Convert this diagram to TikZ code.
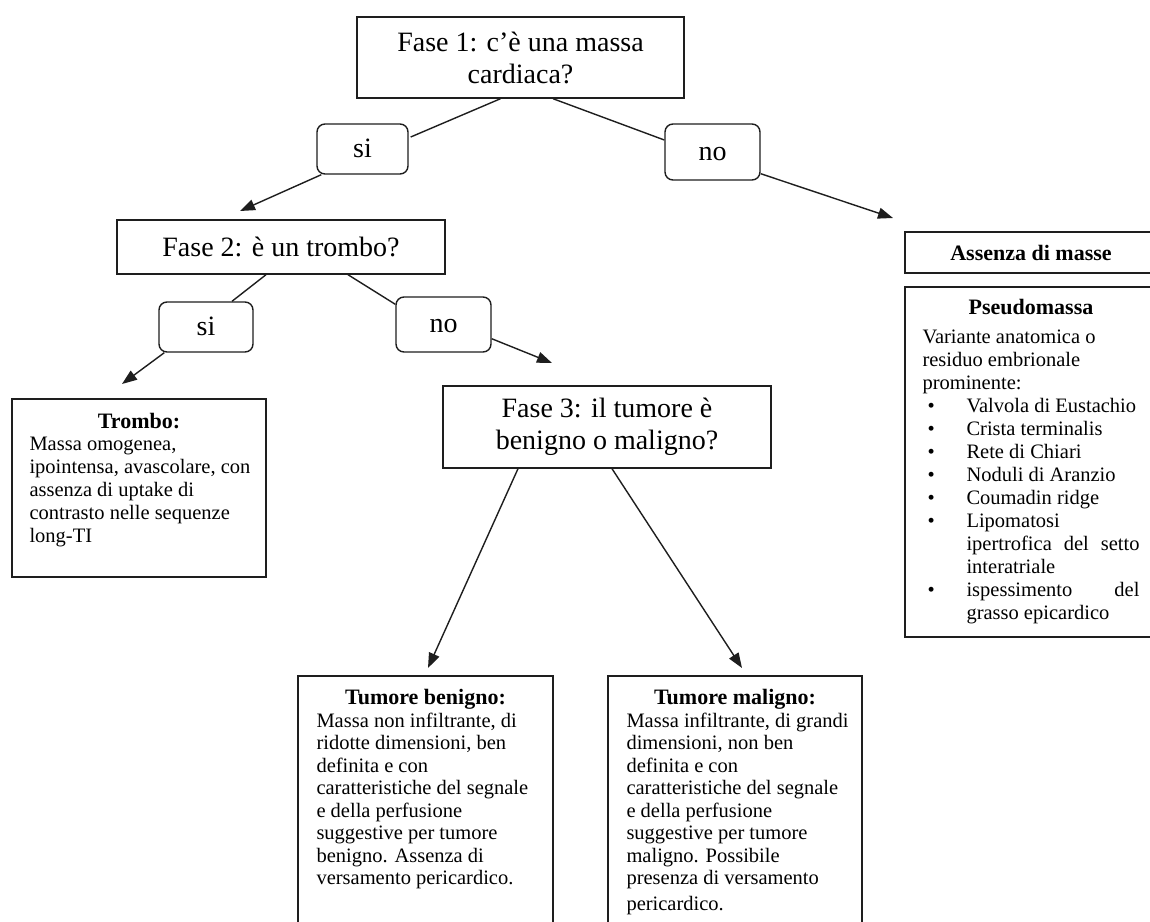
\documentclass[tikz,border=0pt]{standalone}
\usepackage{fontspec}
\setmainfont{Liberation Serif}
\usetikzlibrary{positioning,calc,arrows.meta}
\definecolor{edgeDark}{RGB}{30,30,30}
\newcommand{\pmitem}[1]{\hspace*{5pt}\makebox[39pt][l]{\textbullet}#1}
\newcommand{\pmcont}[1]{\hspace*{44pt}#1}

\begin{document}
\begin{tikzpicture}[x=1pt,y=-1pt,
  fase/.style={draw=edgeDark,line width=1.4pt,align=center,inner sep=0pt,
               font=\fontsize{28}{32}\selectfont},
  answer/.style={draw=edgeDark,line width=1.4pt,rounded corners=8pt,inner sep=0pt,
                 text height=19pt,text depth=2.4pt,
                 font=\fontsize{28}{32}\selectfont},
  panel/.style={draw=edgeDark,line width=1.4pt,inner sep=0pt},
  head/.style={font=\fontsize{22}{24}\selectfont\bfseries,inner sep=0pt,anchor=base},
  body/.style={font=\fontsize{20.5}{23}\selectfont,inner sep=0pt,align=left,anchor=base west},
  link/.style={-{Triangle[length=15pt,width=11pt]},draw=edgeDark,line width=1.4pt},
  tie/.style={draw=edgeDark,line width=1.4pt}
]
\fill[white] (0,0) rectangle (1150,921);
\useasboundingbox (0,0) rectangle (1150,921);
\clip (0,0) rectangle (1150,921);

% ==========  Decision steps  ==========
\node[fase,minimum width=327pt,minimum height=81pt] (f1) at (520.5,57.5)
  {Fase 1: c’è una massa\\cardiaca?};
\node[answer,minimum width=91pt,minimum height=50pt] (si1) at (362.5,149) {si};
\node[answer,minimum width=95pt,minimum height=56pt] (no1) at (712.5,152) {no};

\node[fase,minimum width=328pt,minimum height=54pt] (f2) at (281,247)
  {Fase 2: è un trombo?};
\node[answer,minimum width=94pt,minimum height=50pt] (si2) at (206,327) {si};
\node[answer,minimum width=95pt,minimum height=55pt] (no2) at (443.5,324.5) {no};

\node[fase,minimum width=328pt,minimum height=82pt] (f3) at (607,427)
  {Fase 3: il tumore è\\benigno o maligno?};

% ==========  Outcomes  ==========
% body texts hang from the baseline of their last line
\node[panel,minimum width=254pt,minimum height=178pt] (trombo) at (139,488) {};
\node[head] at ($(trombo.north)+(0,30)$) {Trombo:};
\node[body] at ($(trombo.north west)+(18,144)$)
  {Massa omogenea,\\ipointensa, avascolare, con\\assenza di uptake di\\
   contrasto nelle sequenze\\long-TI};

\node[panel,minimum width=255pt,minimum height=284pt] (benigno) at (425.5,818) {};
\node[head] at ($(benigno.north)+(0,29)$) {Tumore benigno:};
\node[body,font=\fontsize{20.5}{22.5}\selectfont] at ($(benigno.north west)+(19,209.5)$)
  {Massa non infiltrante, di\\ridotte dimensioni, ben\\definita e con\\
   caratteristiche del segnale\\e della perfusione\\suggestive per tumore\\
   benigno. Assenza di\\versamento pericardico.};

\node[panel,minimum width=254pt,minimum height=284pt] (maligno) at (735,818) {};
\node[head] at ($(maligno.north)+(0,29)$) {Tumore maligno:};
\node[body,font=\fontsize{20.5}{22.5}\selectfont] at ($(maligno.north west)+(19,235)$)
  {Massa infiltrante, di grandi\\dimensioni, non ben\\definita e con\\
   caratteristiche del segnale\\e della perfusione\\suggestive per tumore\\
   maligno. Possibile\\presenza di versamento\\[3pt]pericardico.};

\node[panel,minimum width=252pt,minimum height=41pt,
      font=\fontsize{22}{24}\selectfont\bfseries] (assenza) at (1031,252.5)
  {Assenza di masse};

\node[panel,minimum width=252pt,minimum height=350pt] (pseudo) at (1031,462) {};
\node[head] at ($(pseudo.north)+(0,28)$) {Pseudomassa};
\node[body] at ($(pseudo.north west)+(18,333)$)
  {Variante anatomica o\\residuo embrionale\\prominente:\\
   \pmitem{Valvola di Eustachio}\\
   \pmitem{Crista terminalis}\\
   \pmitem{Rete di Chiari}\\
   \pmitem{Noduli di Aranzio}\\
   \pmitem{Coumadin ridge}\\
   \pmitem{Lipomatosi}\\
   \pmcont{\makebox[173pt][s]{ipertrofica del setto}}\\
   \pmcont{interatriale}\\
   \pmitem{\makebox[173pt][s]{ispessimento del}}\\
   \pmcont{grasso epicardico}};

% ==========  Arrow tips (free ends)  ==========
\coordinate (tipF2) at (240,211);
\coordinate (tipAM) at (893,218);
\coordinate (tipTr) at (122,384);
\coordinate (tipF3) at (552,363);
\coordinate (tipBe) at (428,668);
\coordinate (tipMa) at (742,668);

% ==========  Connectors  ==========
% step 1
\draw[tie]  ($(f1.south)+(-20,0)$) -- ($(si1.east)+(2,-12)$);
\draw[tie]  ($(f1.south)+(32.5,0)$) -- ($(no1.west)+(0,-12)$);
\draw[link] ($(si1.south west)+(5,0)$) -- (tipF2);
\draw[link] ($(no1.south east)+(0,-7)$) -- (tipAM);
% step 2
\draw[tie]  ($(f2.south)+(-15,0)$) -- ($(si2.north)+(26,0)$);
\draw[tie]  ($(f2.south)+(67,0)$) -- ($(no2.north west)+(0,8)$);
\draw[link] ($(si2.south west)+(6,0)$) -- (tipTr);
\draw[link] ($(no2.south east)+(0,-14)$) -- (tipF3);
% step 3
\draw[link] ($(f3.south)+(-89,0)$) -- (tipBe);
\draw[link] ($(f3.south)+(5,0)$) -- (tipMa);

\end{tikzpicture}
\end{document}
